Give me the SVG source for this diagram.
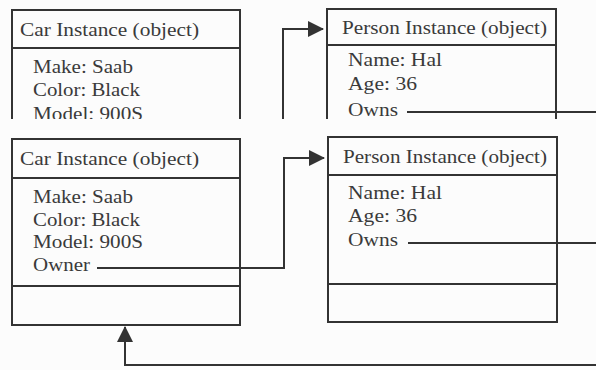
<svg xmlns="http://www.w3.org/2000/svg" width="596" height="370" viewBox="0 0 596 370">
<style>
.box{fill:none;stroke:#333;stroke-width:2}
.ln{fill:none;stroke:#333;stroke-width:2}
.t{font-family:"Liberation Serif","Times New Roman",serif;font-size:19px;fill:#3a3a3a}
</style>
<defs>
<marker id="ah" viewBox="0 0 16 16" refX="15" refY="8" markerWidth="16" markerHeight="16" markerUnits="userSpaceOnUse" orient="auto">
<path d="M0,0 L16,8 L0,16 Z" fill="#333"/>
</marker>
<clipPath id="topclip"><rect x="0" y="0" width="596" height="119"/></clipPath>
</defs>
<rect x="0" y="0" width="596" height="370" fill="#fcfcfc"/>
<g clip-path="url(#topclip)">
<g id="car-top">
<rect class="box" x="12" y="10" width="228" height="186"/>
<line class="ln" x1="12" y1="48" x2="240" y2="48"/>
<text class="t" x="20" y="36" textLength="179" lengthAdjust="spacingAndGlyphs">Car Instance (object)</text>
<text class="t" x="33" y="73" textLength="100" lengthAdjust="spacingAndGlyphs">Make: Saab</text>
<text class="t" x="33" y="96" textLength="107" lengthAdjust="spacingAndGlyphs">Color: Black</text>
<text class="t" x="33" y="120" textLength="110" lengthAdjust="spacingAndGlyphs">Model: 900S</text>
</g>
<g id="person-top">
<rect class="box" x="327" y="9" width="229" height="186"/>
<line class="ln" x1="327" y1="45" x2="556" y2="45"/>
<text class="t" x="342" y="34" textLength="205" lengthAdjust="spacingAndGlyphs">Person Instance (object)</text>
<text class="t" x="348" y="66" textLength="94" lengthAdjust="spacingAndGlyphs">Name: Hal</text>
<text class="t" x="348" y="90" textLength="69" lengthAdjust="spacingAndGlyphs">Age: 36</text>
<text class="t" x="348" y="116" textLength="50" lengthAdjust="spacingAndGlyphs">Owns</text>
</g>
<g id="connectors-top">
<path class="ln" d="M283,130 V29 H323" marker-end="url(#ah)"/>
<path class="ln" d="M407,112 H596"/>
</g>
</g>
<g id="car">
<rect class="box" x="12" y="139" width="228" height="186"/>
<line class="ln" x1="12" y1="178" x2="240" y2="178"/>
<line class="ln" x1="12" y1="286" x2="240" y2="286"/>
<text class="t" x="20" y="165" textLength="179" lengthAdjust="spacingAndGlyphs">Car Instance (object)</text>
<text class="t" x="33" y="203" textLength="100" lengthAdjust="spacingAndGlyphs">Make: Saab</text>
<text class="t" x="33" y="226" textLength="107" lengthAdjust="spacingAndGlyphs">Color: Black</text>
<text class="t" x="33" y="248" textLength="110" lengthAdjust="spacingAndGlyphs">Model: 900S</text>
<text class="t" x="33" y="271" textLength="57" lengthAdjust="spacingAndGlyphs">Owner</text>
</g>
<g id="person">
<rect class="box" x="328" y="137" width="229" height="185"/>
<line class="ln" x1="328" y1="175" x2="557" y2="175"/>
<line class="ln" x1="328" y1="284" x2="557" y2="284"/>
<text class="t" x="343" y="163" textLength="204" lengthAdjust="spacingAndGlyphs">Person Instance (object)</text>
<text class="t" x="348" y="199" textLength="94" lengthAdjust="spacingAndGlyphs">Name: Hal</text>
<text class="t" x="348" y="222" textLength="69" lengthAdjust="spacingAndGlyphs">Age: 36</text>
<text class="t" x="348" y="246" textLength="50" lengthAdjust="spacingAndGlyphs">Owns</text>
</g>
<g id="connectors">
<path class="ln" d="M97,268 H284 V158 H324" marker-end="url(#ah)"/>
<path class="ln" d="M408,243 H596"/>
<path class="ln" d="M596,365 H125 V327" marker-end="url(#ah)"/>
</g>
</svg>
